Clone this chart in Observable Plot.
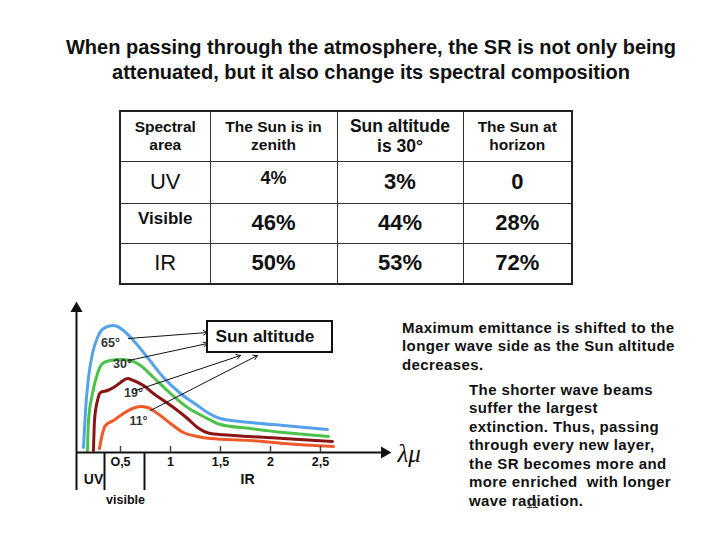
<!DOCTYPE html>
<html>
<head>
<meta charset="utf-8">
<script src="https://cdn.jsdelivr.net/npm/d3@7"></script>
<script src="https://cdn.jsdelivr.net/npm/@observablehq/plot@0.6"></script>
<style>
  html, body { margin:0; padding:0; background:#fff; }
  body { width:720px; height:540px; position:relative; overflow:hidden; font-family:"Liberation Sans", Arial, sans-serif; color:#111; }
  #title { position:absolute; left:40px; width:662px; top:35px; text-align:center; font-weight:bold; font-size:20px; line-height:25px; white-space:nowrap; }
  #tbl { position:absolute; left:119px; top:110px; border-collapse:collapse; border:2.5px solid #222; table-layout:fixed; }
  #tbl td { border:1.8px solid #333; text-align:center; vertical-align:middle; padding:0; font-weight:bold; box-sizing:border-box; }
  .txt { position:absolute; font-weight:bold; font-size:15px; letter-spacing:0.4px; line-height:18.6px; color:#111; white-space:nowrap; }
  #chart { position:absolute; left:0; top:290px; }
  #slideno { position:absolute; left:526px; top:497px; font-size:12px; color:#333; }
</style>
</head>
<body>
<div id="title">When passing through the atmosphere, the SR is not only being<br>attenuated, but it also change its spectral composition</div>
<table id="tbl"></table>
<div class="txt" style="left:402px; top:318.5px;">Maximum emittance is shifted to the<br>longer wave side as the Sun altitude<br>decreases.</div>
<div class="txt" style="left:469px; top:380.5px;">The shorter wave beams<br>suffer the largest<br>extinction. Thus, passing<br>through every new layer,<br>the SR becomes more and<br>more enriched&nbsp; with longer<br>wave radiation.</div>
<div id="slideno">11</div>
<div id="chart"></div>
<script>
// ---- Table data ----
const tableHeaders = ["Spectral<br>area", "The Sun is in<br>zenith", "Sun altitude<br>is 30°", "The Sun at<br>horizon"];
const spectralAreas = ["UV", "Visible", "IR"];
const zenithShare = ["4%", "46%", "50%"];
const alt30Share = ["3%", "44%", "53%"];
const horizonShare = ["0", "28%", "72%"];

// ---- Chart data (wavelength µm, relative emittance) ----
const alt65 = [[0.13,5],[0.15,42],[0.18,75],[0.22,99],[0.27,115],[0.33,124],[0.42,127],[0.47,126],[0.53,122],[0.63,112],[0.77,95],[0.93,75],[1.10,59],[1.27,47],[1.37,40],[1.50,34],[1.80,30],[2.13,27],[2.57,23]];
const alt30 = [[0.17,2],[0.18,32],[0.22,59],[0.27,79],[0.32,89],[0.40,92],[0.50,93],[0.60,92],[0.70,87],[0.83,75],[1.00,59],[1.17,45],[1.33,36],[1.50,28],[1.80,24],[2.13,20],[2.58,16]];
const alt19 = [[0.23,2],[0.24,32],[0.27,52],[0.30,60],[0.37,62],[0.43,65],[0.50,70],[0.57,74],[0.63,72],[0.73,67],[0.83,59],[0.93,52],[1.07,42],[1.17,34],[1.27,25],[1.40,19],[1.63,17],[2.13,14],[2.62,11]];
const alt11 = [[0.29,4],[0.32,19],[0.35,27],[0.43,32],[0.53,39],[0.62,44],[0.70,46],[0.77,45],[0.87,39],[1.00,29],[1.13,20],[1.27,16],[1.40,14],[1.80,12],[2.13,9],[2.63,6]];
const seriesNames = ["65°", "30°", "19°", "11°"];
const seriesColors = ["#55a2ea", "#4cc24a", "#8a1414", "#f05a2a"];
const xTicks = [0.5, 1, 1.5, 2, 2.5];
const xTickLabels = ["O,5", "1", "1,5", "2", "2,5"];
const bandBounds = [0.34, 0.74];
const bandLabels = [{t:"UV", x:0.23, y:-27, s:14}, {t:"IR", x:1.77, y:-27, s:14}, {t:"visible", x:0.55, y:-47, s:12.5}];
const seriesLabels = [{t:"65°", x:0.40, y:110}, {t:"30°", x:0.52, y:89}, {t:"19°", x:0.63, y:60}, {t:"11°", x:0.68, y:32}];
const pointerArrows = [
  {x1:0.58, y1:114, x2:1.37, y2:120},
  {x1:0.58, y1:92, x2:1.37, y2:109},
  {x1:0.65, y1:62, x2:1.70, y2:97},
  {x1:0.80, y1:42, x2:1.87, y2:97}
];
const box = [{x1:1.37, x2:2.62, y1:100, y2:131}];
const xMin = 0.06, xAxisEnd = 3.12, yTop = 147, belowAxis = -38;

// ---- build table ----
const tbl = document.getElementById("tbl");
const colW = [90, 127, 126, 109];
const rowH = [50, 42, 40, 41];
const headSize = [15.5, 15.5, 17.5, 15.5];
let html = "<colgroup>" + colW.map(w=>`<col style="width:${w}px">`).join("") + "</colgroup>";
html += `<tr style="height:${rowH[0]}px">` + tableHeaders.map((h,i)=>`<td style="font-size:${headSize[i]}px;line-height:${headSize[i]+3}px">${h}</td>`).join("") + "</tr>";
spectralAreas.forEach((a,r)=>{
  const areaStyle = a === "Visible" ? "font-size:17px;vertical-align:top;padding-top:5px;" : "font-size:22px;font-weight:normal;";
  const zStyle = a === "UV" ? "font-size:18px;vertical-align:top;padding-top:6px;" : "font-size:22px;";
  html += `<tr style="height:${rowH[r+1]}px"><td style="${areaStyle}">${a}</td><td style="${zStyle}">${zenithShare[r]}</td><td style="font-size:22px">${alt30Share[r]}</td><td style="font-size:22px">${horizonShare[r]}</td></tr>`;
});
tbl.innerHTML = html;

// ---- chart ----
const lineData = [alt65, alt30, alt19, alt11].flatMap((s,i)=>s.map(([x,y])=>({x, y, s:seriesNames[i]})));

const chart = Plot.plot({
  width: 450,
  height: 230,
  x: {domain:[xMin, 2.87], range:[76, 357], axis:null},
  y: {domain:[0, yTop], range:[162, 15], axis:null},
  color: {domain: seriesNames, range: seriesColors},
  style: {fontFamily: "Liberation Sans, Arial, sans-serif", overflow: "visible"},
  marks: [
    Plot.line(lineData, {x:"x", y:"y", stroke:"s", z:"s", strokeWidth:3, curve:"monotone-x"}),
    // axes
    Plot.ruleX([xMin], {y1:belowAxis, y2:yTop - 4, stroke:"#111", strokeWidth:2}),
    Plot.dot([{x:xMin, y:yTop - 3}], {x:"x", y:"y", symbol:"triangle", r:4.5, fill:"#111", stroke:null}),
    Plot.ruleY([0], {x1:xMin, x2:xAxisEnd, stroke:"#111", strokeWidth:2}),
    Plot.dot([{x:xAxisEnd + 0.02, y:0}], {x:"x", y:"y", symbol:"triangle", r:4.5, fill:"#111", stroke:null, rotate:90}),
    Plot.ruleX(xTicks, {y1:0, y2:6, stroke:"#444", strokeWidth:1.5}),
    Plot.text(xTicks, {x:d=>d, y:-9, text:(d,i)=>xTickLabels[i], fontWeight:"bold", fontSize:12.5, fill:"#111"}),
    Plot.ruleX(bandBounds, {y1:belowAxis, y2:0, stroke:"#111", strokeWidth:2}),
    Plot.text(bandLabels, {x:"x", y:"y", text:"t", fontWeight:"bold", fontSize:"s", fill:"#111"}),
    Plot.text([{t:"λμ", x:3.27, y:-1}], {x:"x", y:"y", text:"t", textAnchor:"start", fontSize:25, fontStyle:"italic", fontFamily:"Liberation Serif, DejaVu Serif, serif", fill:"#111"}),
    // annotations
    Plot.text(seriesLabels, {x:"x", y:"y", text:"t", fontWeight:"bold", fontSize:12.5, fill:"#333"}),
    Plot.arrow(pointerArrows, {x1:"x1", y1:"y1", x2:"x2", y2:"y2", stroke:"#111", strokeWidth:1, headLength:7}),
    Plot.rect(box, {x1:"x1", x2:"x2", y1:"y1", y2:"y2", fill:"#fff", stroke:"#111", strokeWidth:2}),
    Plot.text([{t:"Sun altitude", x:1.45, y:116}], {x:"x", y:"y", text:"t", textAnchor:"start", fontWeight:"bold", fontSize:17.3, fill:"#111"})
  ]
});
document.getElementById("chart").appendChild(chart);
</script>
</body>
</html>
